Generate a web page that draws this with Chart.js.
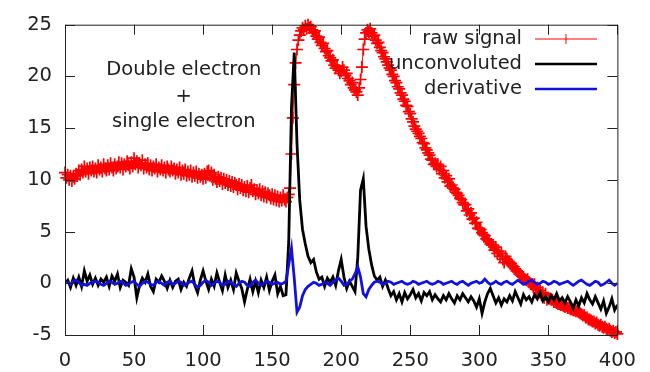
<!DOCTYPE html>
<html>
<head>
<meta charset="utf-8">
<title>signal</title>
<script src="https://cdn.jsdelivr.net/npm/chart.js@4"></script>
<style>
  body { margin: 0; background: #fff; }
  #wrap { width: 650px; height: 372px; }
</style>
</head>
<body>
<div id="wrap"><canvas id="myChart" width="650" height="372"></canvas></div>
<script>
'use strict';
// raw signal is sampled every 1, the two processed curves every 2
let rawStep = 1;
let procStep = 2;
let xTicks = [0, 50, 100, 150, 200, 250, 300, 350, 400];
let yTicks = [-5, 0, 5, 10, 15, 20, 25];
let seriesNames = ['raw signal', 'unconvoluted', 'derivative'];
let noteLines = ['Double electron', '+', 'single electron'];

let rawSignal = [
  10.7, 10.2, 10.5, 10.0, 10.4, 9.9, 10.3, 10.1, 10.6, 10.4,
  10.9, 10.5, 11.0, 10.7, 11.3, 10.8, 11.1, 10.6, 11.2, 10.9,
  11.3, 10.8, 11.1, 10.7, 11.4, 11.0, 11.2, 10.8, 11.5, 11.1,
  10.9, 11.4, 11.0, 11.6, 11.2, 10.9, 11.5, 11.1, 11.3, 11.7,
  11.2, 11.6, 11.0, 11.5, 11.3, 11.8, 11.4, 11.1, 11.7, 11.3,
  12.1, 11.5, 11.8, 11.2, 11.6, 11.4, 11.9, 11.1, 11.5, 11.2,
  11.6, 11.0, 11.4, 10.9, 11.3, 11.1, 11.5, 10.8, 11.2, 11.0,
  11.4, 10.9, 11.2, 10.7, 11.3, 11.0, 10.8, 11.3, 10.9, 11.1,
  10.6, 11.0, 10.7, 11.2, 10.5, 10.9, 10.6, 11.0, 10.4, 10.8,
  10.5, 10.9, 10.3, 10.7, 10.4, 10.8, 10.2, 10.6, 10.3, 10.5,
  10.1, 10.6, 10.2, 10.8, 10.9, 10.4, 10.7, 10.0, 10.5, 10.1,
  9.8, 10.3, 9.9, 10.2, 9.6, 10.1, 9.7, 10.0, 9.5, 9.9,
  9.4, 9.8, 9.3, 9.7, 9.5, 9.1, 9.6, 9.2, 9.5, 9.0,
  9.3, 8.9, 9.4, 8.8, 9.2, 9.5, 8.9, 9.1, 8.6, 9.0,
  8.7, 9.1, 8.5, 8.9, 8.4, 8.8, 8.3, 8.7, 8.5, 8.2,
  8.6, 8.1, 8.5, 8.0, 8.4, 7.9, 8.3, 8.0, 8.5, 8.1,
  7.9, 8.3, 8.6, 9.2, 12.5, 16.0, 19.2, 21.3, 22.6, 23.5,
  24.0, 24.4, 24.7, 24.5, 24.9, 24.6, 25.0, 24.7, 24.8, 24.5,
  24.2, 24.4, 23.9, 23.6, 23.8, 23.3, 23.0, 23.2, 22.7, 22.4,
  22.5, 22.0, 21.8, 21.5, 21.6, 21.1, 20.8, 21.0, 20.6, 20.3,
  20.5, 20.9, 20.6, 20.1, 20.3, 19.8, 19.6, 19.2, 19.4, 18.9,
  18.7, 18.5, 18.2, 18.9, 19.7, 20.9, 22.6, 23.6, 24.2, 24.5,
  24.3, 24.6, 24.2, 23.9, 24.0, 23.5, 23.2, 23.3, 22.8, 22.5,
  22.3, 21.9, 21.7, 21.4, 21.1, 20.8, 20.6, 20.2, 20.0, 19.6,
  19.4, 19.0, 18.8, 18.4, 18.2, 17.8, 17.6, 17.2, 17.1, 16.6,
  16.4, 15.9, 15.6, 15.2, 14.9, 14.7, 14.5, 14.2, 14.0, 13.6,
  13.5, 13.1, 12.9, 12.6, 12.4, 12.0, 11.9, 11.5, 11.6, 11.3,
  11.5, 11.0, 11.3, 10.6, 10.9, 10.2, 10.4, 9.8, 10.1, 9.4,
  9.5, 9.2, 9.1, 8.8, 8.7, 8.5, 8.2, 8.1, 7.8, 7.6,
  7.6, 7.0, 7.2, 6.6, 6.8, 6.2, 6.3, 5.8, 5.9, 5.3,
  5.3, 5.2, 4.9, 4.7, 4.6, 4.3, 4.2, 4.0, 3.8, 3.7,
  3.7, 3.2, 3.5, 2.9, 3.1, 2.6, 2.9, 2.3, 2.0, 2.6,
  2.3, 2.1, 2.0, 1.9, 1.7, 1.6, 1.4, 1.2, 1.1, 0.9,
  0.8, 0.7, 0.6, 0.4, 0.3, 0.4, 0.1, 0.0, -0.1, -0.3,
  -0.1, -0.6, -0.4, -0.9, -0.7, -1.1, -0.9, -1.4, -1.0, -1.6,
  -1.4, -1.5, -1.6, -1.6, -1.8, -1.8, -1.9, -2.0, -2.0, -2.1,
  -2.1, -2.2, -2.3, -2.2, -2.4, -2.4, -2.5, -2.5, -2.6, -2.6,
  -2.7, -2.7, -2.8, -2.9, -3.0, -3.1, -3.1, -3.3, -3.3, -3.5,
  -3.5, -3.6, -3.7, -3.7, -3.9, -3.8, -4.0, -4.1, -4.0, -4.2,
  -4.3, -4.2, -4.4, -4.5, -4.4, -4.6, -4.7, -4.6, -4.8, -4.7,
  -4.9
];

let unconvoluted = [
  0.0, 0.3, -0.4, 0.5, -0.2, 0.6, -0.3, 1.2, 0.2, 0.8, -0.1,
  0.5, -0.2, 0.4, 0.1, 0.6, -0.3, 0.7, 0.2, 0.9, -0.4,
  0.3, 0.1, -0.2, 1.4, 0.6, -1.4, -0.2, 0.5, 0.1, 0.9,
  -0.3, -0.8, 0.4, 0.1, 0.7, 0.2, -0.5, 0.3, -0.4, 0.2,
  0.4, -0.6, 0.1, -0.3, 0.5, 1.2, -0.2, -0.9, 0.3, 1.2,
  0.2, -0.6, 0.4, -0.3, 1.0, 0.1, -0.7, 0.8, -0.4, 0.3,
  -0.6, 1.0, 0.2, -0.5, -1.8, -0.6, 0.4, -0.8, 0.2, -0.9,
  0.3, -0.4, 0.6, -0.7, 0.2, 0.8, -1.0, -0.3, -1.2, -1.1,
  4.0, 17.0, 22.3, 13.5, 8.0, 5.2, 3.8, 2.6, 2.0, 2.3,
  1.1, 0.4, 0.6, -0.3, 0.5, 0.1, 0.6, -0.2, 1.2, 2.3,
  0.6, -0.5, 0.2, -0.3, -0.8, 2.5, 9.0, 10.1, 5.5, 3.3,
  1.8, 0.7, 0.3, 0.6, -0.3, 0.3, -0.5, -1.2, -0.8, -1.6,
  -1.0, -1.8, -0.9, -1.5, -1.1, -0.6, -1.4, -1.0, -1.7, -0.9,
  -1.2, -0.8, -1.6, -1.1, -1.5, -1.8, -1.2, -1.6, -1.0, -1.5,
  -1.9, -1.2, -1.6, -1.0, -1.4, -1.8, -1.3, -1.7, -2.3, -1.5,
  -2.9, -1.8, -1.0, -0.5, -1.2, -1.9, -1.4, -2.1, -1.5, -1.8,
  -1.2, -1.7, -0.8, -1.4, -2.0, -1.1, -1.6, -1.3, -1.8, -1.1,
  -1.5, -0.9, -1.7, -1.3, -1.8, -1.2, -1.6, -1.0, -1.7, -1.4,
  -1.9, -1.3, -1.8, -2.4, -1.6, -2.2, -1.4, -1.9, -1.0, -1.6,
  -2.0, -1.3, -1.9, -2.5, -1.7, -2.9, -2.3, -1.5, -2.6, -2.1
];

let derivative = [
  0.0, 0.1, -0.1, 0.2, 0.3, 0.1, -0.2, -0.1, -0.2, 0.0, 0.1,
  0.2, 0.1, -0.1, -0.2, 0.0, 0.2, 0.1, -0.1, 0.0, 0.2,
  0.1, -0.2, -0.1, 0.1, 0.2, -0.1, -0.3, 0.0, 0.2, 0.1,
  -0.1, -0.2, 0.1, 0.2, 0.0, -0.2, 0.1, 0.2, -0.1, 0.0,
  0.2, 0.1, -0.2, -0.1, 0.1, 0.2, -0.1, -0.4, -0.2, 0.1,
  0.3, 0.1, -0.2, 0.0, 0.2, 0.1, -0.2, -0.1, 0.2, 0.1,
  -0.1, -0.3, 0.0, 0.2, 0.1, -0.2, -0.3, 0.1, 0.3, 0.0,
  -0.2, 0.0, 0.2, 0.1, -0.1, 0.0, 0.1, -0.1, 0.0, 0.2,
  1.8, 3.4, 0.5, -2.8, -2.3, -1.2, -0.6, -0.3, -0.1, 0.1,
  0.0, -0.2, -0.1, 0.1, 0.0, -0.2, 0.1, 0.3, 0.5, 0.2,
  -0.2, -0.1, 0.2, 0.4, 0.9, 1.6, 0.6, -1.0, -1.3, -0.6,
  -0.2, 0.1, 0.2, 0.1, -0.1, 0.0, 0.2, 0.1, -0.1, 0.0,
  0.1, 0.2, 0.0, -0.1, 0.0, 0.2, 0.1, -0.1, 0.0, 0.1,
  0.2, 0.0, -0.1, 0.0, 0.2, 0.1, -0.1, 0.0, 0.1, 0.2,
  0.0, -0.1, 0.1, 0.2, 0.0, -0.2, 0.0, 0.1, 0.2, 0.0,
  0.1, 0.4, 0.1, -0.1, 0.0, 0.2, 0.0, -0.1, 0.1, 0.2,
  0.0, -0.1, 0.1, 0.3, 0.1, -0.1, 0.0, 0.2, 0.3, 0.1,
  -0.1, 0.0, 0.2, 0.1, -0.1, 0.0, 0.2, 0.1, -0.1, 0.0,
  0.1, 0.2, 0.0, -0.2, 0.0, 0.2, 0.3, 0.1, -0.1, -0.2,
  0.0, 0.2, 0.1, -0.2, -0.1, 0.1, 0.3, 0.0, -0.2, 0.0
];

let colors = ['#ff0000', '#000000', '#1010e0'];
let fontName = '"DejaVu Sans", sans-serif';
let fontSize = 19.5;

function toPoints(arr, step) {
  return arr.map(function (v, i) { return { x: i * step, y: v }; });
}

// gnuplot style frame: border all round, ticks pointing in
let framePlugin = {
  id: 'frame',
  afterDraw: function (chart) {
    let ctx = chart.ctx;
    let a = chart.chartArea;
    let xs = chart.scales.x;
    let ys = chart.scales.y;
    let tl = 10;
    ctx.save();
    ctx.strokeStyle = '#222';
    ctx.lineWidth = 1;
    ctx.beginPath();
    ctx.rect(a.left + 0.5, a.top + 0.5, a.right - a.left, a.bottom - a.top);
    for (let i = 0; i < xTicks.length; i++) {
      let px = Math.round(xs.getPixelForValue(xTicks[i])) + 0.5;
      ctx.moveTo(px, a.bottom); ctx.lineTo(px, a.bottom - tl);
      ctx.moveTo(px, a.top); ctx.lineTo(px, a.top + tl);
    }
    for (let i = 0; i < yTicks.length; i++) {
      let py = Math.round(ys.getPixelForValue(yTicks[i])) + 0.5;
      ctx.moveTo(a.left, py); ctx.lineTo(a.left + tl, py);
      ctx.moveTo(a.right, py); ctx.lineTo(a.right - tl, py);
    }
    ctx.stroke();

    // text note
    ctx.fillStyle = '#222';
    ctx.font = fontSize + 'px ' + fontName;
    ctx.textAlign = 'center';
    ctx.textBaseline = 'middle';
    let noteX = xs.getPixelForValue(86);
    let noteY = [70, 97, 122];
    for (let i = 0; i < noteLines.length; i++) {
      ctx.fillText(noteLines[i], noteX, noteY[i]);
    }

    // key, top right
    let keyY = [39, 64, 89];
    ctx.textAlign = 'right';
    for (let i = 0; i < seriesNames.length; i++) {
      ctx.fillStyle = '#222';
      ctx.fillText(seriesNames[i], 522, keyY[i]);
      ctx.strokeStyle = colors[i];
      ctx.lineWidth = i === 0 ? 1 : 2.5;
      ctx.beginPath();
      ctx.moveTo(535, keyY[i]);
      ctx.lineTo(597, keyY[i]);
      if (i === 0) {
        ctx.moveTo(566, keyY[i] - 5); ctx.lineTo(566, keyY[i] + 5);
      }
      ctx.stroke();
    }
    ctx.restore();
  }
};

let ctx = document.getElementById('myChart').getContext('2d');
let myChart = new Chart(ctx, {
  type: 'line',
  data: {
    datasets: [
      {
        label: seriesNames[0], data: toPoints(rawSignal, rawStep), order: 3,
        borderColor: colors[0], borderWidth: 1,
        pointStyle: 'cross', pointRadius: 6, pointBorderWidth: 1.7,
        pointBorderColor: colors[0], pointBackgroundColor: colors[0], clip: 8
      },
      {
        label: seriesNames[1], data: toPoints(unconvoluted, procStep), order: 2,
        borderColor: colors[1], borderWidth: 2.8, pointRadius: 0
      },
      {
        label: seriesNames[2], data: toPoints(derivative, procStep), order: 1,
        borderColor: colors[2], borderWidth: 2.8, pointRadius: 0
      }
    ]
  },
  options: {
    responsive: false,
    animation: false,
    events: [],
    layout: { padding: { top: 16, right: 29, left: 0, bottom: 0 } },
    plugins: { legend: { display: false }, tooltip: { enabled: false } },
    scales: {
      x: {
        type: 'linear', min: 0, max: 400,
        afterBuildTicks: function (s) { s.ticks = xTicks.map(function (v) { return { value: v }; }); },
        afterFit: function (s) { s.height = 37; },
        grid: { display: false, drawTicks: false },
        border: { display: false },
        ticks: { color: '#222', padding: 14, maxRotation: 0, font: { family: fontName, size: fontSize } }
      },
      y: {
        min: -5, max: 25,
        afterBuildTicks: function (s) { s.ticks = yTicks.map(function (v) { return { value: v }; }); },
        afterFit: function (s) { s.width = 65; },
        grid: { display: false, drawTicks: false },
        border: { display: false },
        ticks: { color: '#222', padding: 13, font: { family: fontName, size: fontSize } }
      }
    }
  },
  plugins: [framePlugin]
});
</script>
</body>
</html>
